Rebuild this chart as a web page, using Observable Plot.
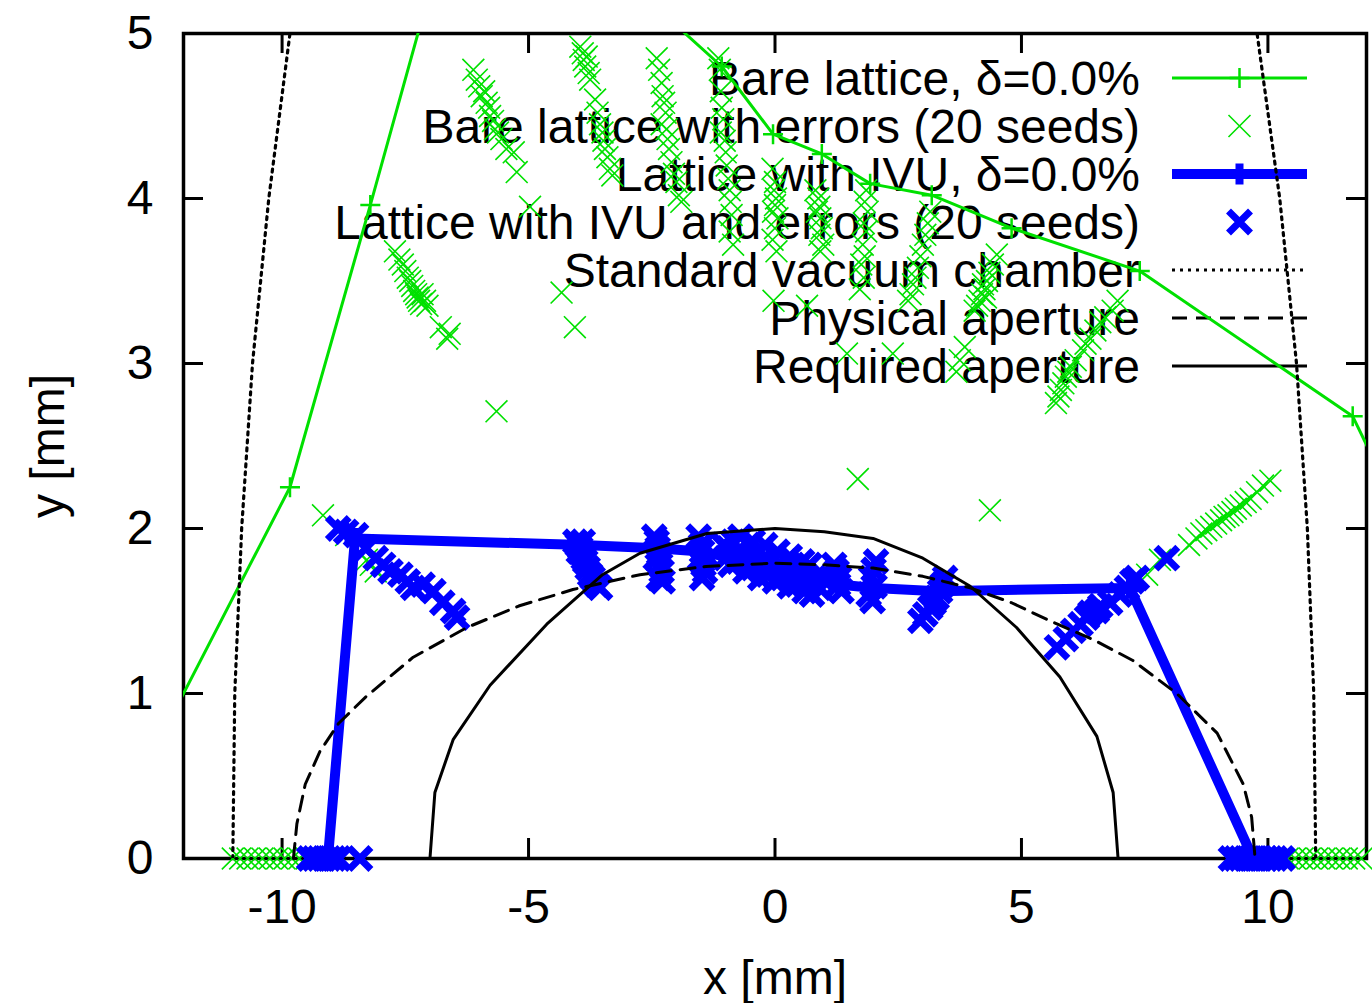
<!DOCTYPE html>
<html><head><meta charset="utf-8">
<script src="https://cdn.jsdelivr.net/npm/d3@7"></script>
<script src="https://cdn.jsdelivr.net/npm/@observablehq/plot@0.6"></script>
<style>body{margin:0;background:#fff}#chart{width:1372px;height:1003px}</style>
</head><body><div id="chart"></div>
<script>
// ---------- data ----------
const xTicks = [-10, -5, 0, 5, 10];
const yTicks = [0, 1, 2, 3, 4, 5];

// Bare lattice, delta = 0.0% (line with + markers; some vertices lie outside the frame)
const bareX = [-12.5, -9.84, -8.21, -6.5, -2.6, -1.08, -0.04, 0.95, 1.93, 3.18, 4.8, 7.4, 11.72, 12.5];
const bareY = [0.71, 2.25, 3.96, 5.8, 5.21, 4.80, 4.39, 4.27, 4.09, 4.02, 3.82, 3.56, 2.68, 2.2];

// Bare lattice with errors (20 seeds)
const bareErr = [
  [-7.71,3.68],[-7.62,3.63],[-7.55,3.60],[-7.50,3.56],[-7.45,3.52],[-7.40,3.50],[-7.36,3.47],[-7.32,3.44],[-7.28,3.42],[-7.25,3.40],[-7.22,3.38],[-7.18,3.36],[-7.15,3.42],[-7.10,3.38],[-7.05,3.35],[-6.78,3.22],[-6.65,3.15],[-6.60,3.18],
  [-6.12,4.78],[-6.05,4.72],[-6.00,4.68],[-5.95,4.62],[-5.90,4.65],[-5.85,4.58],[-5.80,4.55],[-5.78,4.50],[-5.72,4.47],[-5.68,4.42],[-5.62,4.40],[-5.55,4.36],[-5.45,4.30],[-5.30,4.28],
  [-5.24,4.16],[-4.97,3.95],[-4.33,3.43],[-4.06,3.22],[-5.65,2.71],
  [-3.95,4.92],[-3.90,4.88],[-3.88,4.84],[-3.85,4.80],[-3.82,4.86],[-3.78,4.76],[-3.75,4.72],[-3.65,4.60],[-3.60,4.52],[-3.55,4.45],[-3.50,4.40],[-3.48,4.35],[-3.45,4.30],[-3.40,4.25],[-3.35,4.18],[-3.30,4.14],
  [-2.40,4.85],[-2.35,4.78],[-2.30,4.70],[-2.28,4.62],[-2.25,4.58],[-2.22,4.52],[-2.30,4.45],[-2.20,4.42],[-2.18,4.36],[-2.15,4.30],[-2.10,4.22],[-2.05,4.15],[-2.00,4.10],[-1.95,4.02],[-1.90,3.98],
  [-1.15,4.85],[-1.12,4.78],[-1.10,4.65],[-1.08,4.55],[-1.05,4.48],[-1.10,4.40],[-1.02,4.35],[-1.00,4.28],[-0.98,4.20],[-0.95,4.12],[-0.92,4.05],[-0.90,3.98],[-0.88,3.90],[-0.92,3.80],[-0.85,3.72],
  [-0.05,4.18],[0.00,4.10],[-0.02,4.05],[0.02,4.00],[0.00,3.96],[-0.04,3.92],[0.05,3.88],[0.00,3.82],[-0.05,3.75],[0.03,3.68],[-0.03,3.38],
  [0.82,4.05],[0.88,4.00],[0.90,3.95],[0.85,3.92],[0.92,3.88],[0.95,3.82],[0.90,3.78],[0.98,3.72],[0.92,3.68],[0.65,3.35],
  [1.85,4.05],[1.82,3.98],[1.88,3.92],[1.80,3.85],[1.85,3.80],[1.78,3.72],[1.82,3.65],[1.75,3.60],[1.80,3.52],[1.72,3.45],
  [3.15,3.92],[3.10,3.85],[3.05,3.78],[3.00,3.72],[2.95,3.65],[2.90,3.58],[2.85,3.52],[2.80,3.48],[2.75,3.42],[2.70,3.38],
  [4.50,3.66],[4.42,3.60],[4.35,3.55],[4.30,3.50],[4.25,3.45],[4.20,3.42],[4.15,3.38],[4.10,3.35],[4.05,3.32],[4.22,3.48],[4.28,3.40],
  [3.85,3.10],[3.75,3.02],[3.68,2.95],[1.46,3.06],[2.39,3.06],
  [5.70,2.76],[5.75,2.80],[5.80,2.84],[5.85,2.88],[5.90,2.92],[6.00,2.98],[6.10,3.02],[6.25,3.08],[6.40,3.15],[6.50,3.20],[6.60,3.25],[6.70,3.28],[6.85,3.32],[6.95,3.38],[6.30,3.12],[5.95,2.95],
  [1.68,2.30],[4.36,2.11],[-9.17,2.08],
  [8.40,1.90],[8.55,1.94],[8.65,1.97],[8.75,1.99],[8.85,2.01],[8.95,2.03],[9.05,2.05],[9.12,2.07],[9.20,2.08],[9.28,2.10],[9.35,2.12],[9.45,2.14],[9.55,2.16],[9.65,2.18],[9.78,2.22],[9.90,2.26],[10.05,2.29],
  [7.55,1.72],[7.81,1.81],[-8.28,1.81],[-8.20,1.78],[-8.10,1.74],[-8.70,1.96],
  [-11.0,0],[-10.85,0],[-10.7,0],[-10.55,0],[-10.4,0],[-10.25,0],[-10.1,0],[-9.95,0],[-9.8,0],[-9.65,0],[-9.5,0],[-9.4,0],
  [10.4,0],[10.55,0],[10.7,0],[10.85,0],[11.0,0],[11.15,0],[11.3,0],[11.45,0],[11.6,0],[11.75,0],[11.9,0]
];

// Lattice with IVU, delta = 0.0%
const ivuX = [-9.07, -8.52, -3.9, -2.4, -1.5, -0.5, 0.5, 1.3, 2.0, 3.3, 7.2, 9.7];
const ivuY = [0, 1.94, 1.90, 1.88, 1.86, 1.80, 1.72, 1.66, 1.64, 1.62, 1.64, 0];

// Lattice with IVU and errors (20 seeds)
const ivuErr = [
  [-8.86,2.00],[-8.70,1.98],[-8.50,1.96],[-8.30,1.88],[-8.10,1.82],[-7.95,1.78],[-7.80,1.74],[-7.60,1.72],[-7.45,1.68],[-7.34,1.64],[-7.15,1.66],[-6.93,1.62],[-6.75,1.55],[-6.53,1.50],[-6.45,1.46],
  [-4.05,1.92],[-4.00,1.90],[-3.95,1.88],[-3.92,1.85],[-3.88,1.82],[-3.85,1.80],[-3.80,1.76],[-3.75,1.72],[-3.70,1.70],[-3.62,1.66],[-3.55,1.64],[-3.90,1.92],[-3.98,1.86],
  [-2.45,1.95],[-2.40,1.92],[-2.38,1.88],[-2.35,1.85],[-2.42,1.82],[-2.33,1.78],[-2.30,1.74],[-2.36,1.70],[-2.28,1.68],
  [-1.55,1.95],[-1.50,1.90],[-1.48,1.86],[-1.52,1.82],[-1.45,1.78],[-1.42,1.74],[-1.48,1.70],
  [-1.05,1.90],[-0.95,1.88],[-0.85,1.92],[-0.80,1.85],[-0.70,1.86],[-0.60,1.84],[-0.50,1.82],[-0.40,1.85],[-0.30,1.80],[-0.20,1.78],[-0.10,1.80],[0.00,1.76],[0.10,1.74],[0.20,1.76],[0.30,1.72],[0.40,1.70],[0.50,1.72],[0.60,1.68],[0.70,1.66],[0.80,1.70],[0.90,1.64],
  [-0.90,1.78],[-0.60,1.74],[-0.30,1.70],[0.00,1.68],[0.30,1.65],[0.60,1.62],[-0.70,1.95],[-0.20,1.90],[0.30,1.83],[0.70,1.78],
  [-1.00,1.82],[-0.75,1.80],[-0.45,1.76],[-0.15,1.72],[0.15,1.70],[0.45,1.66],[0.75,1.60],[-0.45,1.92],[0.05,1.86],[0.55,1.80],[0.95,1.72],
  [1.25,1.74],[1.30,1.70],[1.28,1.66],[1.20,1.78],[1.35,1.62],
  [2.05,1.80],[2.00,1.75],[1.95,1.70],[2.02,1.65],[1.90,1.60],[1.98,1.56],
  [3.45,1.70],[3.40,1.66],[3.35,1.62],[3.28,1.58],[3.22,1.55],[3.15,1.52],[3.05,1.48],[2.95,1.44],
  [5.72,1.28],[5.90,1.33],[6.05,1.38],[6.20,1.42],[6.33,1.46],[6.40,1.49],[6.53,1.50],[6.60,1.53],[6.80,1.55],[7.00,1.60],[7.14,1.64],[7.25,1.68],[7.34,1.70],[7.95,1.82],
  [-9.45,0],[-9.35,0],[-9.25,0],[-9.15,0],[-9.05,0],[-8.95,0],[-8.85,0],[-8.42,0],
  [9.25,0],[9.35,0],[9.45,0],[9.55,0],[9.65,0],[9.75,0],[9.85,0],[9.95,0],[10.05,0],[10.15,0],[10.3,0]
];

// Standard vacuum chamber (two branches)
const vacLeftX = [-11.0, -10.96, -10.82, -10.60, -10.27, -9.84];
const vacRightX = [10.97, 10.93, 10.80, 10.58, 10.24, 9.78];
const vacY = [0, 1, 2, 3, 4, 5];

// Physical aperture
const physX = [-9.77,-9.70,-9.53,-9.23,-8.85,-8.3,-7.34,-6.25,-5.2,-4.1,-2.74,-1.4,0,1.0,1.99,3.0,3.96,4.8,5.58,6.5,7.26,8.15,8.97,9.5,9.67,9.74];
const physY = [0,0.21,0.45,0.65,0.82,0.98,1.22,1.40,1.53,1.63,1.72,1.77,1.79,1.78,1.76,1.71,1.64,1.55,1.44,1.32,1.2,1.0,0.76,0.45,0.25,0];

// Required aperture
const reqX = [-7.0,-6.9,-6.53,-5.78,-4.63,-3.5,-2.74,-1.38,0,1.0,1.99,3.0,3.96,4.9,5.78,6.53,6.86,6.96];
const reqY = [0,0.40,0.72,1.05,1.42,1.72,1.85,1.97,2.0,1.98,1.94,1.82,1.65,1.40,1.10,0.74,0.40,0];

const legendLabels = [
  "Bare lattice, δ=0.0%",
  "Bare lattice with errors (20 seeds)",
  "Lattice with IVU, δ=0.0%",
  "Lattice with IVU and errors (20 seeds)",
  "Standard vacuum chamber",
  "Physical aperture",
  "Required aperture"
];

// ---------- build tables ----------
const zip = (xs, ys) => xs.map((x, i) => ({x, y: ys[i]}));
const bare = zip(bareX, bareY);
const ivu = zip(ivuX, ivuY);
const bareErrT = bareErr.map(([x, y]) => ({x, y}));
const ivuErrT = ivuErr.map(([x, y]) => ({x, y}));
const vac = [...zip(vacLeftX, vacY).map(d => ({...d, side: "L"})), ...zip(vacRightX, vacY).map(d => ({...d, side: "R"}))];
const phys = zip(physX, physY);
const req = zip(reqX, reqY);

// ---------- style ----------
const GREEN = "#00e000", BLUE = "#0000ff";
const FONT = "'Liberation Sans', Arial, Helvetica, sans-serif";
const W = 1372, H = 1003, ML = 183, MR = 6, MT = 33, MB = 145, TICK = 20;
const FW = W - ML - MR, FH = H - MT - MB;
const FS = 48;

const svg = Plot.plot({
  width: W, height: H,
  marginLeft: ML, marginRight: MR, marginTop: MT, marginBottom: MB,
  x: {domain: [-12, 12]},
  y: {domain: [0, 5]},
  style: {fontFamily: FONT, fontSize: FS + "px", background: "white", color: "black", overflow: "visible"},
  marks: [
    Plot.axisX(xTicks, {tickSize: 0, tickPadding: 30, fontSize: FS, label: null, tickFormat: d => String(d)}),
    Plot.axisY(yTicks, {tickSize: 0, tickPadding: 30, fontSize: FS, label: null, tickFormat: d => String(d)}),
    Plot.tickX(xTicks, {x: d => d, insetTop: FH - TICK, stroke: "black", strokeWidth: 3}),
    Plot.tickX(xTicks, {x: d => d, insetBottom: FH - TICK, stroke: "black", strokeWidth: 3}),
    Plot.tickY(yTicks, {y: d => d, insetRight: FW - TICK, stroke: "black", strokeWidth: 3}),
    Plot.tickY(yTicks, {y: d => d, insetLeft: FW - TICK, stroke: "black", strokeWidth: 3}),
    Plot.frame({stroke: "black", strokeWidth: 3.5}),
    Plot.text(["x [mm]"], {frameAnchor: "bottom", dy: 120, textAnchor: "middle", lineAnchor: "middle", fontSize: FS}),
    Plot.text(["y [mm]"], {frameAnchor: "left", dx: -135, rotate: -90, textAnchor: "middle", lineAnchor: "middle", fontSize: FS}),
    // data
    Plot.line(bare, {x: "x", y: "y", stroke: GREEN, strokeWidth: 3, clip: true}),
    Plot.dot(bare, {x: "x", y: "y", symbol: "plus", r: 6.5, fill: "none", stroke: GREEN, strokeWidth: 2.5, clip: true}),
    Plot.dot(bareErrT, {x: "x", y: "y", symbol: "times", r: 10, fill: "none", stroke: GREEN, strokeWidth: 1.6}),
    Plot.line(ivu, {x: "x", y: "y", stroke: BLUE, strokeWidth: 10}),
    Plot.dot(ivu, {x: "x", y: "y", symbol: "plus", r: 6.8, fill: "none", stroke: BLUE, strokeWidth: 8}),
    Plot.dot(ivuErrT, {x: "x", y: "y", symbol: "times", r: 10, fill: "none", stroke: BLUE, strokeWidth: 7}),
    Plot.line(vac, {x: "x", y: "y", z: "side", stroke: "black", strokeWidth: 3.2, strokeDasharray: "3,5", clip: true}),
    Plot.line(phys, {x: "x", y: "y", stroke: "black", strokeWidth: 3, strokeDasharray: "15,9"}),
    Plot.line(req, {x: "x", y: "y", stroke: "black", strokeWidth: 3})
  ]
});

// ---------- legend (gnuplot-style key inside the frame, drawn beneath the data) ----------
const LX = 1140, S0 = 1172, S1 = 1307, SM = (S0 + S1) / 2, LY0 = 78, LDY = 48;
const key = d3.create("svg:g").attr("font-family", FONT).attr("font-size", FS);
const samples = [
  {stroke: GREEN, sw: 3, marker: d3.symbolPlus, size: 132, msw: 2.5},
  {marker: d3.symbolTimes, size: 318, msw: 1.6, mstroke: GREEN},
  {stroke: BLUE, sw: 10, marker: d3.symbolPlus, size: 146, msw: 8},
  {marker: d3.symbolTimes, size: 318, msw: 7, mstroke: BLUE},
  {stroke: "black", sw: 3.2, dash: "3,5"},
  {stroke: "black", sw: 3, dash: "15,9"},
  {stroke: "black", sw: 3}
];
legendLabels.forEach((label, i) => {
  const y = LY0 + i * LDY;
  const s = samples[i];
  key.append("text").attr("x", LX).attr("y", y).attr("dy", "0.35em").attr("text-anchor", "end").attr("fill", "black").text(label);
  if (s.stroke) {
    key.append("line").attr("x1", S0).attr("x2", S1).attr("y1", y).attr("y2", y)
      .attr("stroke", s.stroke).attr("stroke-width", s.sw).attr("stroke-dasharray", s.dash || null);
  }
  if (s.marker) {
    key.append("path").attr("transform", `translate(${SM},${y})`)
      .attr("d", d3.symbol(s.marker, s.size)()).attr("fill", "none")
      .attr("stroke", s.mstroke || s.stroke).attr("stroke-width", s.msw);
  }
});
const firstData = svg.querySelector('g[aria-label="line"]');
svg.insertBefore(key.node(), firstData);

document.getElementById("chart").appendChild(svg);
</script></body></html>
